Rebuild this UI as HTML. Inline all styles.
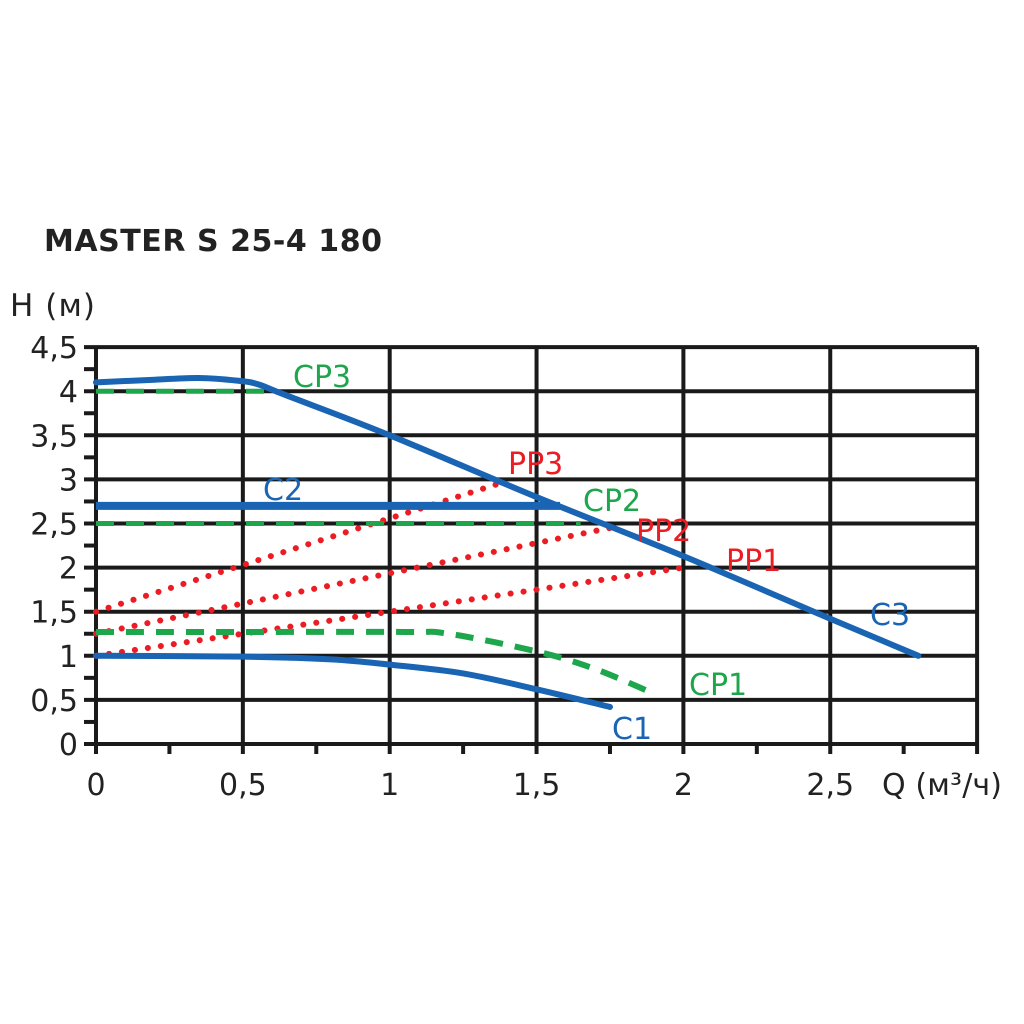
<!DOCTYPE html>
<html><head><meta charset="utf-8"><style>
body{margin:0;background:#fff;}
svg{display:block;font-family:"DejaVu Sans","Liberation Sans",sans-serif;}
</style></head><body>
<svg id="chart" width="1024" height="1024" viewBox="0 0 1024 1024">
<rect width="1024" height="1024" fill="#fff"/>
<text x="44" y="251" font-size="30" font-weight="bold" fill="#222" textLength="338">MASTER S 25-4 180</text>
<text x="10" y="316" font-size="31" fill="#222" textLength="85">H (м)</text>
<text x="882" y="795" font-size="30" fill="#222" textLength="120">Q (м³/ч)</text>
<g id="grid"></g>
<g id="series"></g>
<g id="labels"></g>
</svg>
<script>
const xTicks=[0,0.5,1,1.5,2,2.5];
const xTickLabels=["0","0,5","1","1,5","2","2,5"];
const yTicks=[0,0.5,1,1.5,2,2.5,3,3.5,4,4.5];
const yTickLabels=["0","0,5","1","1,5","2","2,5","3","3,5","4","4,5"];
const c3Q=[0,0.2,0.35,0.48,0.55,0.65,1,1.5,2,2.5,2.8];
const c3H=[4.1,4.13,4.15,4.12,4.08,3.95,3.5,2.8,2.13,1.42,1.0];
const c2Q=[0,1.58];
const c2H=[2.7,2.7];
const c1Q=[0,0.5,0.8,1,1.25,1.5,1.75];
const c1H=[1,0.99,0.96,0.9,0.8,0.62,0.42];
const cp3Q=[0,0.6];
const cp3H=[4,4];
const cp2Q=[0,1.65];
const cp2H=[2.5,2.5];
const cp1Q=[0,0.5,1.05,1.2,1.5,1.7,1.9];
const cp1H=[1.27,1.27,1.27,1.25,1.05,0.85,0.57];
const pp3Q=[0,1.37];
const pp3H=[1.5,2.95];
const pp2Q=[0,1.75];
const pp2H=[1.25,2.45];
const pp1Q=[0,2.0];
const pp1H=[1.0,2.0];

const X0=96,XPU=293.7,Y0=744,YPU=88.2;
const sx=q=>X0+q*XPU, sy=h=>Y0-h*YPU;
const NS="http://www.w3.org/2000/svg";
function mk(tag,parent){const e=document.createElementNS(NS,tag);document.getElementById(parent).appendChild(e);return e;}
yTicks.forEach((v,i)=>{
  const l=mk('line','grid');l.setAttribute('x1',X0-12);l.setAttribute('x2',sx(3));l.setAttribute('y1',sy(v));l.setAttribute('y2',sy(v));
  l.setAttribute('stroke','#1a1a1a');l.setAttribute('stroke-width','4');
  
  
  const t=mk('text','grid');t.setAttribute('x',X0-18);t.setAttribute('y',sy(v)+11);t.setAttribute('text-anchor','end');t.setAttribute('font-size','30');t.setAttribute('fill','#222');
  t.textContent=yTickLabels[i];
  
  
  if(v<4.5){const m=mk('line','grid');m.setAttribute('x1',X0-12);m.setAttribute('x2',X0);m.setAttribute('y1',sy(v+0.25));m.setAttribute('y2',sy(v+0.25));m.setAttribute('stroke','#1a1a1a');m.setAttribute('stroke-width','4');
  
  }
});
xTicks.concat([3]).forEach((v,i)=>{
  const l=mk('line','grid');l.setAttribute('x1',sx(v));l.setAttribute('x2',sx(v));l.setAttribute('y1',sy(4.5));l.setAttribute('y2',Y0+10);
  l.setAttribute('stroke','#1a1a1a');l.setAttribute('stroke-width','4');
  
  
  if(i<xTickLabels.length){const t=mk('text','grid');t.setAttribute('x',sx(v));t.setAttribute('y',795);t.setAttribute('text-anchor','middle');t.setAttribute('font-size','30');t.setAttribute('fill','#222');
  t.textContent=xTickLabels[i];
  
  }
  if(v<3){const m=mk('line','grid');m.setAttribute('x1',sx(v+0.25));m.setAttribute('x2',sx(v+0.25));m.setAttribute('y1',Y0);m.setAttribute('y2',Y0+10);m.setAttribute('stroke','#1a1a1a');m.setAttribute('stroke-width','4');
  
  }
});
function path(Q,H,smooth){
  const p=Q.map((q,i)=>[sx(q),sy(H[i])]);
  if(!smooth||p.length<3)return 'M'+p.map(a=>a.join(',')).join('L');
  let d='M'+p[0].join(',');
  for(let i=0;i<p.length-1;i++){const p0=p[i-1]||p[i],p1=p[i],p2=p[i+1],p3=p[i+2]||p2;
    d+='C'+(p1[0]+(p2[0]-p0[0])/6)+','+(p1[1]+(p2[1]-p0[1])/6)+' '+(p2[0]-(p3[0]-p1[0])/6)+','+(p2[1]-(p3[1]-p1[1])/6)+' '+p2[0]+','+p2[1];}
  return d;
}
const BLUE='#1a64b4',GREEN='#1ea64c',RED='#ec1c24';
function draw(Q,H,color,w,dash,cap,smooth,name){
  const e=mk('path','series');e.setAttribute('d',path(Q,H,smooth));e.setAttribute('fill','none');e.setAttribute('stroke',color);e.setAttribute('stroke-width',w);
  if(dash)e.setAttribute('stroke-dasharray',dash);e.setAttribute('stroke-linecap',cap);
  
  
}
draw(pp3Q,pp3H,RED,6,'0.1 13','round',false,'pp3-line');
draw(pp2Q,pp2H,RED,6,'0.1 13','round',false,'pp2-line');
draw(pp1Q,pp1H,RED,6,'0.1 13','round',false,'pp1-line');
draw(cp3Q,cp3H,GREEN,5,'18 12','butt',false,'cp3-line');
draw(cp2Q,cp2H,GREEN,5,'18 12','butt',false,'cp2-line');
draw(cp1Q,cp1H,GREEN,6,'18 12','butt',true,'cp1-line');
draw(c2Q,c2H,BLUE,8,null,'butt',false,'c2-line');
draw(c3Q,c3H,BLUE,6,null,'round',true,'c3-line');
draw(c1Q,c1H,BLUE,6,null,'round',true,'c1-line');
const labels=[["CP3",293,387,GREEN],["C2",263,500,BLUE],["PP3",508,474,RED],["CP2",583,511,GREEN],["PP2",636,541,RED],["PP1",726,571,RED],["C3",870,625,BLUE],["CP1",689,695,GREEN],["C1",612,739,BLUE]];
labels.forEach(a=>{const t=mk('text','labels');t.setAttribute('x',a[1]);t.setAttribute('y',a[2]);t.setAttribute('font-size','30');t.setAttribute('fill',a[3]);t.textContent=a[0];
  
  });
</script>
</body></html>
